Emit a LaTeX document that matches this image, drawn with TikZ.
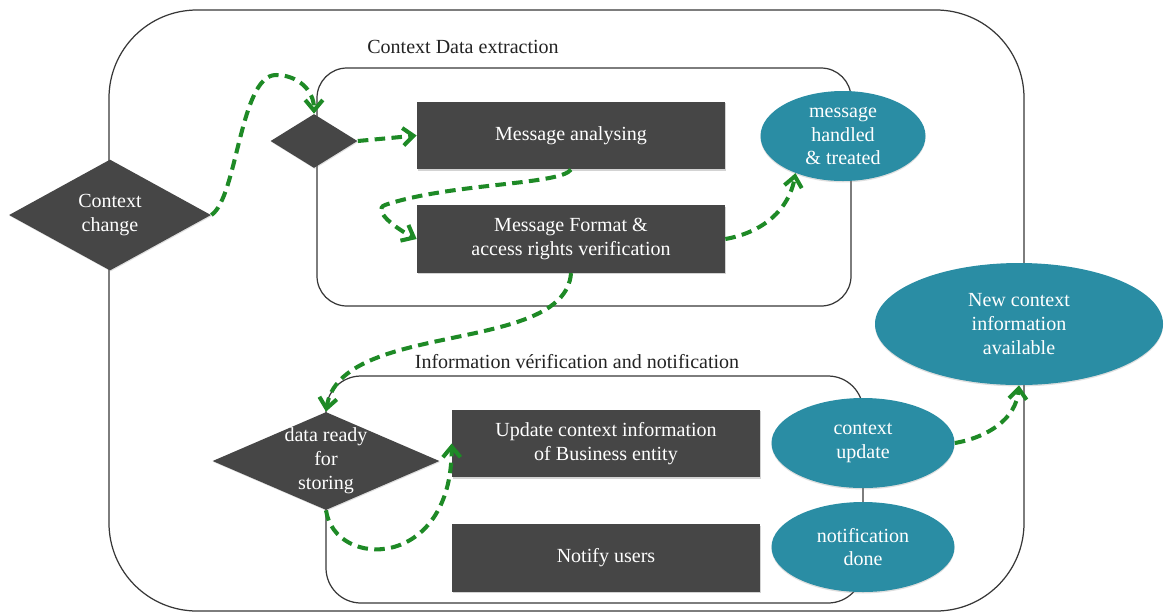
\documentclass[tikz,border=0pt]{standalone}
\usepackage{fontspec}
\setmainfont{Liberation Serif}
\usetikzlibrary{shapes.geometric,arrows.meta,shadows}
\definecolor{boxgray}{RGB}{70,70,70}
\definecolor{ovalteal}{RGB}{42,141,164}
\definecolor{flowgreen}{RGB}{30,138,38}
\definecolor{framegray}{RGB}{55,55,55}
\definecolor{labelgray}{RGB}{35,35,35}
\begin{document}
\begin{tikzpicture}[every node/.style={font=\fontsize{11.4}{13.6}\selectfont},
  box/.style={fill=boxgray,text=white,align=center,minimum width=6.16cm,minimum height=1.35cm,
    drop shadow={shadow xshift=0.5pt,shadow yshift=-0.8pt,opacity=0.35}},
  dia/.style={diamond,fill=boxgray,inner sep=0pt,
    drop shadow={shadow xshift=0.4pt,shadow yshift=-0.6pt,opacity=0.25}},
  oval/.style={ellipse,fill=ovalteal,text=white,align=center,inner sep=0pt,
    drop shadow={shadow xshift=0pt,shadow yshift=-0.8pt,opacity=0.25}},
  wtxt/.style={text=white,align=center},
  frame/.style={draw=framegray,line width=0.7pt},
  flow/.style={draw=flowgreen,line width=2.3pt,dash pattern=on 6pt off 3.6pt,
    -{Straight Barb[length=6pt,width=10pt]}}]
\useasboundingbox (0,0) rectangle (23.3,-12.26);
% frames
\draw[frame,rounded corners=1.76cm] (2.18,-0.2) rectangle (20.48,-12.22);
\draw[frame,rounded corners=0.6cm] (6.34,-1.36) rectangle (17.02,-6.12);
\draw[frame,rounded corners=0.7cm] (6.52,-7.52) rectangle (17.26,-12.06);
\node[text=labelgray] (ttlx) at (9.26,-0.94) {Context Data extraction};
\node[text=labelgray] (ttlv) at (11.54,-7.24) {Information vérification and notification};
% decisions
\node[dia,minimum width=4.04cm,minimum height=2.22cm] (cc) at (2.2,-4.3) {};
\node[wtxt] (cctxt) at (cc) {Context\\change};
\node[dia,minimum width=1.74cm,minimum height=1.08cm] (sd) at (6.28,-2.82) {};
\node[dia,minimum width=4.54cm,minimum height=1.96cm] (dr) at (6.52,-9.22) {};
\node[wtxt] (drtxt) at (dr) {data ready\\for\\storing};
% tasks
\node[box] (ma) at (11.42,-2.71) {Message analysing};
\node[box] (mf) at (11.42,-4.78) {Message Format \&\\access rights verification};
\node[box] (uc) at (12.12,-8.87) {Update context information\\of Business entity};
\node[box] (nu) at (12.12,-11.16) {Notify users};
% states
\node[oval,minimum width=3.3cm,minimum height=1.8cm] (mh) at (16.86,-2.72) {message\\handled\\\& treated};
\node[oval,minimum width=5.76cm,minimum height=2.44cm] (nc) at (20.38,-6.48) {New context\\information\\available};
\node[oval,minimum width=3.66cm,minimum height=1.8cm] (cu) at (17.26,-8.86) {context\\update};
\node[oval,minimum width=3.66cm,minimum height=1.8cm] (nd) at (17.26,-10.94) {notification\\done};
% flows
\draw[flow] (cc.east) .. controls (4.75,-3.95) and (4.8,-1.5) .. (5.52,-1.5) .. controls (5.95,-1.5) and (6.28,-1.8) .. (sd.north);
\draw[flow] (sd.east) -- (ma.west);
\draw[flow] (ma.south) .. controls (11.2,-3.7) and (9.0,-3.66) .. (7.7,-4.1) .. controls (7.44,-4.2) and (7.9,-4.56) .. (mf.west);
\draw[flow] (mf.east) to[out=10,in=-100] (mh.218);
\draw[flow] (mf.south) .. controls (11.3,-7.1) and (6.8,-6.4) .. (dr.north);
\draw[flow] (dr.south) .. controls (6.7,-11.4) and (9.04,-11.4) .. (uc.west);
\draw[flow] (cu.east) to[out=10,in=-95] (nc.south);
\end{tikzpicture}
\end{document}
